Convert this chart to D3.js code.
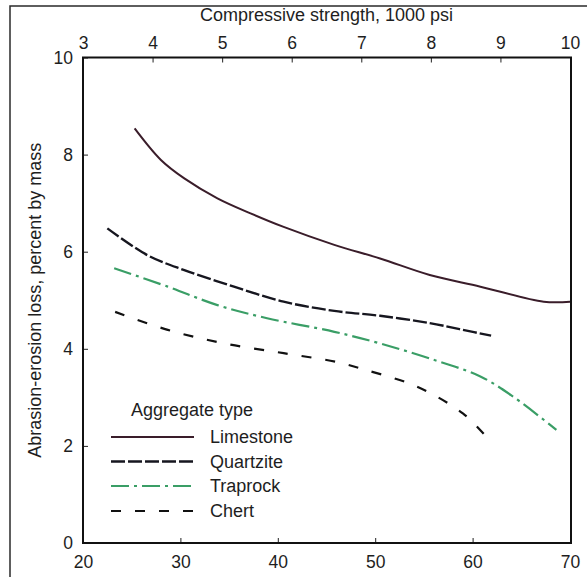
<!DOCTYPE html>
<html>
<head>
<meta charset="utf-8">
<script src="https://cdn.jsdelivr.net/npm/d3@7"></script>
<style>
  body { margin: 0; background: #fff; }
  svg text { font-family: "Liberation Sans", Arial, sans-serif; fill: #1e1e1e; }
  .tick text { font-size: 17.5px; }
  .tick line { stroke: #222; stroke-width: 1; }
</style>
</head>
<body>
<div id="graf"></div>
<script>
// data
const seriesNames = ['Limestone', 'Quartzite', 'Traprock', 'Chert']

const limestoneX = [25.3, 28.0, 30.4, 33.8, 37.2, 40.6, 45.8, 50.5, 55.6, 60.8, 67.3, 70.0]
const limestoneY = [8.54, 7.89, 7.51, 7.10, 6.79, 6.51, 6.14, 5.86, 5.52, 5.28, 4.97, 4.97]

const quartziteX = [22.5, 26.6, 30.4, 35.5, 40.6, 45.8, 50.5, 55.6, 59.0, 61.9]
const quartziteY = [6.48, 5.93, 5.62, 5.28, 4.97, 4.78, 4.68, 4.53, 4.39, 4.27]

const traprockX = [23.2, 28.7, 33.8, 38.9, 45.8, 50.5, 55.6, 60.8, 64.2, 68.6]
const traprockY = [5.66, 5.28, 4.90, 4.63, 4.35, 4.11, 3.80, 3.43, 3.01, 2.33]

const chertX = [23.3, 28.7, 34.5, 40.6, 46.0, 49.1, 54.3, 59.0, 61.4]
const chertY = [4.76, 4.39, 4.11, 3.91, 3.73, 3.56, 3.22, 2.67, 2.19]

const mpaTicks = [20, 30, 40, 50, 60, 70]
const psiTicks = [3, 4, 5, 6, 7, 8, 9, 10]
const lossTicks = [0, 2, 4, 6, 8, 10]

const xTitle = 'Compressive strength, 1000 psi'
const yTitle = 'Abrasion-erosion loss, percent by mass'
const legendTitle = 'Aggregate type'

// styles
const estilos = {
  Limestone: { color: '#3a1d2a', dash: null, width: 2 },
  Quartzite: { color: '#16161f', dash: '14,3', width: 2.4 },
  Traprock: { color: '#3a9e66', dash: '18,5,3,5', width: 2.2 },
  Chert: { color: '#111', dash: '10,14', width: 2.2 }
}

const ancho = 587
const alto = 577
const mIzq = 83, mDer = 570, mSup = 57.5, mInf = 543

const svg = d3.select('#graf')
  .append('svg')
  .attr('width', ancho)
  .attr('height', alto)

// outer frame of the figure
svg.append('path')
  .attr('d', `M${ancho},6 L10,6 L10,${alto}`)
  .attr('fill', 'none')
  .attr('stroke', '#2a2a2a')
  .attr('stroke-width', 1.5)

const x = d3.scaleLinear().domain([20, 70]).range([mIzq, mDer])
const xTop = d3.scaleLinear().domain([3, 10]).range([mIzq, mDer])
const y = d3.scaleLinear().domain([0, 10]).range([mInf, mSup])

const xAxis = d3.axisBottom(x).tickValues(mpaTicks).tickFormat(d3.format('d')).tickSize(-5).tickPadding(13)
const xTopAxis = d3.axisTop(xTop).tickValues(psiTicks).tickFormat(d3.format('d')).tickSize(-5).tickPadding(9)
const yAxis = d3.axisLeft(y).tickValues(lossTicks).tickFormat(d3.format('d')).tickSize(-5).tickPadding(10)

svg.append('g')
  .attr('transform', `translate(0, ${mInf})`)
  .call(xAxis)
  .call(g => g.select('.domain').remove())

svg.append('g')
  .attr('transform', `translate(0, ${mSup})`)
  .call(xTopAxis)
  .call(g => g.select('.domain').remove())

svg.append('g')
  .attr('transform', `translate(${mIzq}, 0)`)
  .call(yAxis)
  .call(g => g.select('.domain').remove())

// plot box
svg.append('rect')
  .attr('x', mIzq)
  .attr('y', mSup)
  .attr('width', mDer - mIzq + 1)
  .attr('height', mInf - mSup)
  .attr('fill', 'none')
  .attr('stroke', '#111')
  .attr('stroke-width', 2)

svg.append('text')
  .attr('x', (mIzq + mDer) / 2)
  .attr('y', 21)
  .attr('text-anchor', 'middle')
  .style('font-size', '18px')
  .text(xTitle)

svg.append('text')
  .attr('transform', `translate(41, ${(mSup + mInf) / 2}) rotate(-90)`)
  .attr('text-anchor', 'middle')
  .style('font-size', '18px')
  .text(yTitle)

const series = [
  { name: 'Limestone', xs: limestoneX, ys: limestoneY },
  { name: 'Quartzite', xs: quartziteX, ys: quartziteY },
  { name: 'Traprock', xs: traprockX, ys: traprockY },
  { name: 'Chert', xs: chertX, ys: chertY }
]

const line = d3.line()
  .x(d => x(d[0]))
  .y(d => y(d[1]))
  .curve(d3.curveCatmullRom.alpha(0.5))

svg.selectAll('.serie')
  .data(series)
  .enter()
  .append('path')
  .attr('class', 'serie')
  .attr('d', s => line(s.xs.map((v, i) => [v, s.ys[i]])))
  .attr('fill', 'none')
  .attr('stroke', s => estilos[s.name].color)
  .attr('stroke-width', s => estilos[s.name].width)
  .attr('stroke-dasharray', s => estilos[s.name].dash)

// legend
const leyenda = svg.append('g')

leyenda.append('text')
  .attr('x', 131)
  .attr('y', 415.5)
  .style('font-size', '18px')
  .text(legendTitle)

const filas = [437, 461.5, 486, 511]

seriesNames.forEach((nombre, i) => {
  leyenda.append('line')
    .attr('x1', 111)
    .attr('x2', 194)
    .attr('y1', filas[i])
    .attr('y2', filas[i])
    .attr('stroke', estilos[nombre].color)
    .attr('stroke-width', estilos[nombre].width)
    .attr('stroke-dasharray', estilos[nombre].dash)

  leyenda.append('text')
    .attr('x', 210)
    .attr('y', filas[i] + 6.3)
    .style('font-size', '18px')
    .text(nombre)
})
</script>
</body>
</html>
